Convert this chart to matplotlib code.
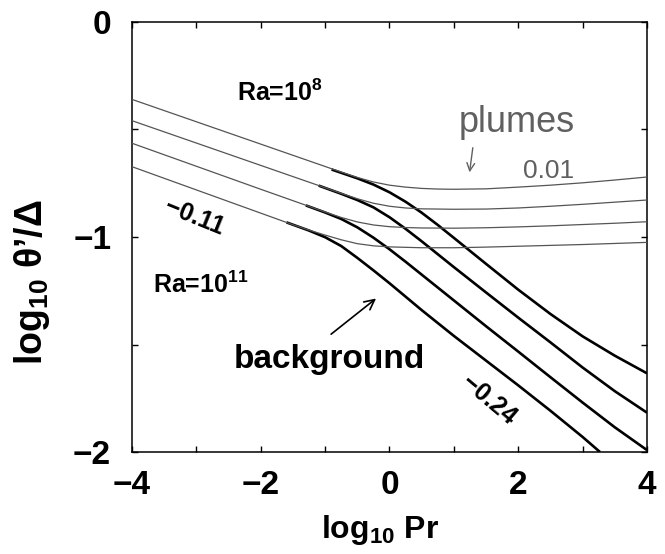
import matplotlib
matplotlib.use("Agg")
import matplotlib.pyplot as plt
from matplotlib.ticker import FixedLocator, NullFormatter

plt.rcParams['font.family'] = ['Liberation Sans', 'DejaVu Sans']
plt.rcParams['mathtext.fontset'] = 'custom'
plt.rcParams['mathtext.rm'] = 'Liberation Sans:bold'
plt.rcParams['mathtext.it'] = 'Liberation Sans:italic'
plt.rcParams['mathtext.bf'] = 'Liberation Sans:bold'

# ---- data (log10 Pr, log10 theta'/Delta) ----
# plume curves (thin, grey), Ra = 1e8, 1e9, 1e10, 1e11
plume_x1 = [-4, -3, -2, -1, -0.75, -0.5, -0.25, 0, 0.25, 0.5, 0.75, 1, 1.5, 2, 2.5, 3, 3.5, 4]
plume_y1 = [-0.360, -0.464, -0.568, -0.672, -0.698, -0.723, -0.744, -0.759, -0.768, -0.774,
            -0.777, -0.778, -0.776, -0.768, -0.759, -0.748, -0.735, -0.721]
plume_x2 = [-4, -3, -2, -1, -0.75, -0.5, -0.25, 0, 0.25, 0.5, 1, 1.5, 2, 2.5, 3, 3.5, 4]
plume_y2 = [-0.459, -0.563, -0.667, -0.771, -0.797, -0.822, -0.843, -0.857, -0.865, -0.869,
            -0.871, -0.870, -0.865, -0.857, -0.848, -0.838, -0.828]
plume_x3 = [-4, -3, -2, -1.5, -1, -0.75, -0.5, -0.25, 0, 0.25, 0.5, 1, 1.5, 2, 2.5, 3, 3.5, 4]
plume_y3 = [-0.564, -0.671, -0.778, -0.831, -0.884, -0.909, -0.930, -0.944, -0.952, -0.956,
            -0.958, -0.959, -0.957, -0.953, -0.948, -0.942, -0.936, -0.929]
plume_x4 = [-4, -3, -2, -1.5, -1.25, -1, -0.75, -0.5, -0.25, 0, 0.5, 1, 1.5, 2, 2.5, 3, 3.5, 4]
plume_y4 = [-0.673, -0.781, -0.889, -0.943, -0.968, -0.991, -1.013, -1.031, -1.041, -1.046,
            -1.050, -1.050, -1.047, -1.043, -1.039, -1.035, -1.030, -1.025]

# background curves (thick, black)
back_x1 = [-0.9, -0.5, -0.25, 0, 0.25, 0.5, 0.75, 1, 1.5, 2, 2.5, 3, 3.5, 4]
back_y1 = [-0.686, -0.727, -0.756, -0.792, -0.836, -0.887, -0.944, -1.004, -1.125, -1.245,
           -1.358, -1.462, -1.552, -1.634]
back_x2 = [-1.1, -0.75, -0.5, -0.25, 0, 0.25, 0.5, 0.75, 1, 1.5, 2, 2.5, 3, 3.5, 4]
back_y2 = [-0.761, -0.799, -0.828, -0.862, -0.908, -0.962, -1.020, -1.080, -1.140, -1.258,
           -1.375, -1.490, -1.607, -1.717, -1.817]
back_x3 = [-1.3, -1.0, -0.75, -0.5, -0.25, 0, 0.25, 0.5, 1, 1.5, 2, 2.5, 3, 3.5, 4]
back_y3 = [-0.853, -0.886, -0.916, -0.955, -1.003, -1.057, -1.115, -1.175, -1.295, -1.415,
           -1.533, -1.652, -1.770, -1.885, -1.991]
back_x4 = [-1.6, -1.25, -1.0, -0.75, -0.5, -0.25, 0, 0.5, 1, 1.5, 2, 2.5, 3, 3.27]
back_y4 = [-0.932, -0.970, -1.001, -1.042, -1.097, -1.155, -1.215, -1.340, -1.460, -1.575,
           -1.690, -1.808, -1.930, -2.000]

plume_xs = [plume_x1, plume_x2, plume_x3, plume_x4]
plume_ys = [plume_y1, plume_y2, plume_y3, plume_y4]
back_xs = [back_x1, back_x2, back_x3, back_x4]
back_ys = [back_y1, back_y2, back_y3, back_y4]

x_major = [-4, -2, 0, 2, 4]
x_minor = [-3, -1, 1, 3]
y_major = [-2, -1, 0]
y_minor = [-1.5, -0.5]
x_labels = ['\u22124', '\u22122', '0', '2', '4']
y_labels = ['\u22122', '\u22121', '0']

fig = plt.figure(figsize=(6.65, 5.54), dpi=100)
ax = fig.add_axes([0.1985, 0.1841, 0.7744, 0.7762])

for xs, ys in zip(back_xs, back_ys):
    ax.plot(xs, ys, color='black', lw=1.9, solid_capstyle='butt',
            solid_joinstyle='round', zorder=2)
for xs, ys in zip(plume_xs, plume_ys):
    ax.plot(xs, ys, color='#555555', lw=0.9, solid_joinstyle='round', zorder=3)

ax.set_xlim(-4, 4)
ax.set_ylim(-2, 0)
ax.xaxis.set_major_locator(FixedLocator(x_major))
ax.xaxis.set_minor_locator(FixedLocator(x_minor))
ax.yaxis.set_major_locator(FixedLocator(y_major))
ax.yaxis.set_minor_locator(FixedLocator(y_minor))
ax.xaxis.set_minor_formatter(NullFormatter())
ax.yaxis.set_minor_formatter(NullFormatter())
ax.set_xticklabels(x_labels, fontweight='bold')
ax.set_yticklabels(y_labels, fontweight='bold')
for which in ('major', 'minor'):
    ax.tick_params(axis='both', which=which, direction='in', length=4.5, width=1.0,
                   top=True, right=True, labelsize=24)
ax.tick_params(axis='x', which='major', pad=13)
ax.tick_params(axis='y', which='major', pad=15)
for s in ax.spines.values():
    s.set_linewidth(1.1)

ax.set_xlabel('log$_{10}$ Pr', fontsize=23, fontweight='bold')
ax.xaxis.set_label_coords(0.4816, -0.142)
ax.set_ylabel('log$_{10}$ \u03b8\u2019/\u0394', fontsize=27, fontweight='bold')
ax.yaxis.set_label_coords(-0.155, 0.395)

ax.text(-2.374, -0.366, 'Ra=10$^{8}$', fontsize=18, fontweight='bold',
        ha='left', va='baseline')
ax.text(-3.67, -1.26, 'Ra=10$^{11}$', fontsize=18, fontweight='bold',
        ha='left', va='baseline')
ax.text(-3.037, -0.908, '\u22120.11', fontsize=18, fontweight='bold', rotation=-22,
        ha='center', va='center', rotation_mode='anchor')
ax.text(1.543, -1.758, '\u22120.24', fontsize=18, fontweight='bold', rotation=-40,
        ha='center', va='center', rotation_mode='anchor')
ax.text(1.974, -0.510, 'plumes', fontsize=26, color='#606060', ha='center', va='baseline')
ax.text(2.475, -0.726, '0.01', fontsize=19, color='#606060', ha='center', va='baseline')
ax.text(-2.427, -1.611, 'background', fontsize=24, fontweight='bold',
        ha='left', va='baseline')

ax.annotate('', xy=(-0.175, -1.278), xytext=(-0.941, -1.460),
            arrowprops=dict(arrowstyle='->', color='black', lw=1.2,
                            mutation_scale=18))
ax.annotate('', xy=(1.238, -0.712), xytext=(1.30, -0.572),
            arrowprops=dict(arrowstyle='->', color='#606060', lw=1.0,
                            mutation_scale=14))

fig.savefig('out.png', dpi=100)
